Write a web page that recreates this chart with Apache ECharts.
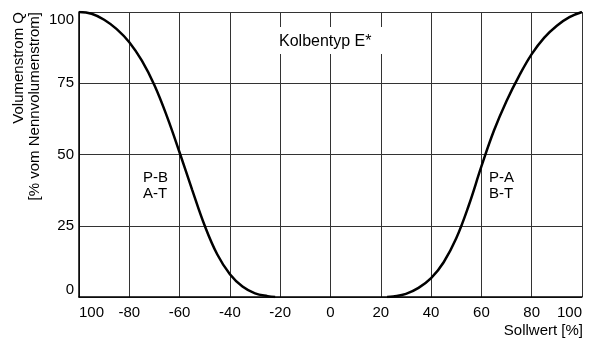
<!DOCTYPE html>
<html>
<head>
<meta charset="utf-8">
<script src="https://cdn.jsdelivr.net/npm/echarts@6/dist/echarts.min.js"></script>
<style>html,body{margin:0;padding:0;background:#fff}#c{width:589px;height:349px}</style>
</head>
<body>
<div id="c"></div>
<script>
const xTicks = [-100, -80, -60, -40, -20, 0, 20, 40, 60, 80, 100];
const xTickLabels = ['100', '-80', '-60', '-40', '-20', '0', '20', '40', '60', '80', '100'];
const yTicks = [0, 25, 50, 75, 100];
const yTickLabels = ['0', '25', '50', '75', '100'];

// P-B / A-T curve
const leftX = [-100, -95, -90, -85, -80, -75, -70, -65, -60, -55, -50, -45, -40, -35, -30, -25, -22];
const leftY = [100, 99.4, 97.3, 94.0, 89.4, 82.9, 74.3, 63.3, 50.7, 37.6, 25.0, 14.9, 8.0, 3.7, 1.3, 0.3, 0];
// P-A / B-T curve
const rightX = [22.5, 25, 30, 35, 40, 45, 50, 55, 60, 65, 70, 75, 80, 85, 90, 95, 100];
const rightY = [0, 0.2, 1.1, 3.2, 6.6, 12.2, 20.6, 32.2, 45.8, 58.4, 68.8, 77.6, 85.2, 91.0, 95.2, 98.2, 100];

const FONT = '"Liberation Sans", Arial, sans-serif';
const chart = echarts.init(document.getElementById('c'), null, {renderer: 'canvas'});

const lineStyle = {color: '#000', width: 2.5};
chart.setOption({
  animation: false,
  backgroundColor: '#fff',
  grid: {left: 79, right: 7, top: 12, bottom: 52, containLabel: false},
  xAxis: {
    type: 'value', min: -100, max: 100, interval: 20,
    axisLine: {show: true, onZero: false, lineStyle: {color: '#000', width: 1.5}},
    axisTick: {show: false},
    splitLine: {show: true, lineStyle: {color: '#333', width: 1}},
    axisLabel: {
      margin: 8, fontFamily: FONT, fontSize: 15, color: '#000',
      alignMinLabel: 'left', alignMaxLabel: 'right',
      formatter: v => xTickLabels[xTicks.indexOf(v)]
    }
  },
  yAxis: {
    type: 'value', min: 0, max: 100, interval: 25,
    axisLine: {show: true, onZero: false, lineStyle: {color: '#000', width: 1.5}},
    axisTick: {show: false},
    splitLine: {show: true, lineStyle: {color: '#333', width: 1}},
    axisLabel: {
      margin: 5, fontFamily: FONT, fontSize: 15, color: '#000',
      verticalAlignMinLabel: 'bottom', verticalAlignMaxLabel: 'top',
      formatter: v => yTickLabels[yTicks.indexOf(v)]
    }
  },
  series: [
    {type: 'line', data: leftX.map((x, i) => [x, leftY[i]]), showSymbol: false, smooth: 0.4, lineStyle: lineStyle, z: 5},
    {type: 'line', data: rightX.map((x, i) => [x, rightY[i]]), showSymbol: false, smooth: 0.4, lineStyle: lineStyle, z: 5}
  ],
  graphic: [
    {type: 'rect', z: 100, shape: {x: 277, y: 27, width: 108, height: 27}, style: {fill: '#fff'}},
    {type: 'text', z: 101, x: 279, y: 42, style: {text: 'Kolbentyp E*', font: '16px ' + FONT, fill: '#000', align: 'left', verticalAlign: 'middle'}},
    {type: 'text', z: 101, x: 143, y: 186, style: {text: 'P-B\nA-T', font: '15px ' + FONT, lineHeight: 16, fill: '#000', align: 'left', verticalAlign: 'middle'}},
    {type: 'text', z: 101, x: 489, y: 186, style: {text: 'P-A\nB-T', font: '15px ' + FONT, lineHeight: 16, fill: '#000', align: 'left', verticalAlign: 'middle'}},
    {type: 'text', z: 101, x: 583, y: 331, style: {text: 'Sollwert [%]', font: '15px ' + FONT, fill: '#000', align: 'right', verticalAlign: 'middle'}},
    {type: 'text', z: 101, x: 11, y: 12, rotation: Math.PI / 2, style: {text: 'Volumenstrom Q\n[% vom Nennvolumenstrom]', font: '15px ' + FONT, lineHeight: 16, fill: '#000', align: 'right', verticalAlign: 'top'}}
  ]
});
</script>
</body>
</html>
